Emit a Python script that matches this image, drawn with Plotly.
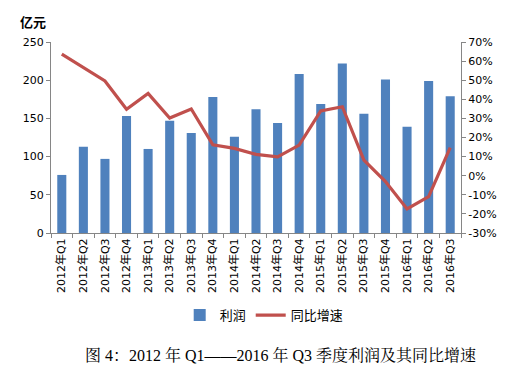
import plotly.graph_objects as go

categories = ["2012年Q1", "2012年Q2", "2012年Q3", "2012年Q4",
              "2013年Q1", "2013年Q2", "2013年Q3", "2013年Q4",
              "2014年Q1", "2014年Q2", "2014年Q3", "2014年Q4",
              "2015年Q1", "2015年Q2", "2015年Q3", "2015年Q4",
              "2016年Q1", "2016年Q2", "2016年Q3"]
profit = [76, 113, 97, 153, 110, 147, 131, 178, 126, 162, 144, 208,
          169, 222, 156, 201, 139, 199, 179]
growth = [63.6, 56.8, 49.6, 34.8, 43.1, 30.2, 34.9, 16.2, 14.3, 11.2, 9.9, 16.0,
          33.9, 36.1, 8.2, -3.1, -17.4, -11.0, 14.7]
left_ticks = [0, 50, 100, 150, 200, 250]
right_ticks = [-30, -20, -10, 0, 10, 20, 30, 40, 50, 60, 70]

font = "DejaVu Sans, Noto Sans CJK SC, sans-serif"

fig = go.Figure()
fig.add_trace(go.Bar(x=categories, y=profit, name="利润", marker_color="#4F81BD",
                     marker_line_width=0))
fig.add_trace(go.Scatter(x=categories, y=growth, name="同比增速", mode="lines",
                         line=dict(color="#C0504D", width=3.2), yaxis="y2"))

axis_common = dict(showline=True, linecolor="#868686", linewidth=1, ticks="outside",
                   ticklen=4, tickcolor="#868686", showgrid=False, zeroline=False,
                   tickfont=dict(family=font, size=11, color="#000"))

fig.update_layout(
    width=509, height=365,
    margin=dict(l=43, r=56, t=34, b=140),
    paper_bgcolor="white", plot_bgcolor="white",
    bargap=0.58,
    showlegend=True,
    legend=dict(orientation="h", x=0.52, xanchor="center", y=-0.43, yanchor="middle",
                font=dict(family=font, size=13, color="#000"), itemwidth=30),
    xaxis=dict(**axis_common, tickangle=-90, tickson="boundaries", type="category"),
    yaxis=dict(**axis_common, range=[0, 250], tickvals=left_ticks),
    yaxis2=dict(**axis_common, overlaying="y", side="right", range=[-30, 70],
                tickvals=right_ticks, ticktext=[f"{v}%" for v in right_ticks]),
    annotations=[
        dict(text="<b>亿元</b>", xref="paper", yref="paper", x=-0.08, y=1.0,
             xanchor="left", yanchor="middle", yshift=20, showarrow=False,
             font=dict(family=font, size=13, color="#000")),
        dict(text="图 4：2012 年 Q1——2016 年 Q3 季度利润及其同比增速",
             xref="paper", yref="paper", x=0.559, y=-0.64, xanchor="center",
             yanchor="middle", showarrow=False,
             font=dict(family="Liberation Serif, Noto Serif CJK SC, Noto Sans CJK SC, serif",
                       size=16, color="#000")),
    ],
)

fig.write_html("out.html")
